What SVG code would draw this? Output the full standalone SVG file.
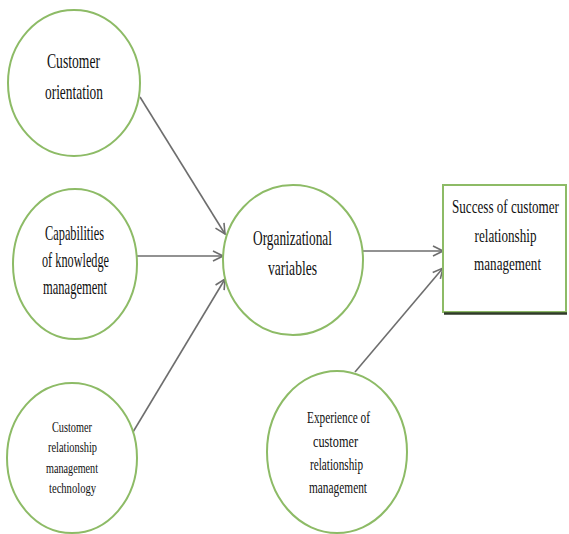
<svg xmlns="http://www.w3.org/2000/svg" width="569" height="534" viewBox="0 0 569 534">
<style>
.node{fill:#fff;stroke:#8dbb66;stroke-width:2}
.t{font-family:"Liberation Serif","Times New Roman",serif;fill:#111;text-anchor:middle}
.conn{stroke:#6e6e6e;stroke-width:1.6;fill:none;marker-end:url(#arr)}
</style>
<defs>
<marker id="arr" viewBox="0 0 12 12" refX="11" refY="6" markerWidth="12" markerHeight="12" markerUnits="userSpaceOnUse" orient="auto">
<path d="M1,1 L11,6 L1,11" fill="none" stroke="#6e6e6e" stroke-width="1.6"/>
</marker>
</defs>
<rect width="569" height="534" fill="#fff"/>
<g id="connectors">
<line class="conn" x1="140" y1="97" x2="225" y2="234"/>
<line class="conn" x1="137" y1="256" x2="223" y2="256"/>
<line class="conn" x1="133" y1="432" x2="225" y2="279"/>
<line class="conn" x1="363" y1="251" x2="443" y2="251"/>
<line class="conn" x1="355" y1="372" x2="443" y2="268"/>
</g>
<g id="n1">
<ellipse class="node" cx="74" cy="83" rx="66" ry="73"/>
<text class="t" font-size="21"><tspan x="73.5" y="68" textLength="53" lengthAdjust="spacingAndGlyphs">Customer</tspan><tspan x="74" y="99" textLength="58" lengthAdjust="spacingAndGlyphs">orientation</tspan></text>
</g>
<g id="n2">
<ellipse class="node" cx="75" cy="264" rx="62" ry="75"/>
<text class="t" font-size="21"><tspan x="74.5" y="240" textLength="59" lengthAdjust="spacingAndGlyphs">Capabilities</tspan><tspan x="75.5" y="267" textLength="67" lengthAdjust="spacingAndGlyphs">of knowledge</tspan><tspan x="75" y="294" textLength="64" lengthAdjust="spacingAndGlyphs">management</tspan></text>
</g>
<g id="n3">
<ellipse class="node" cx="72" cy="458" rx="65" ry="75"/>
<text class="t" font-size="15"><tspan x="72" y="432" textLength="40" lengthAdjust="spacingAndGlyphs">Customer</tspan><tspan x="72.5" y="452" textLength="49" lengthAdjust="spacingAndGlyphs">relationship</tspan><tspan x="72" y="473" textLength="52" lengthAdjust="spacingAndGlyphs">management</tspan><tspan x="72.5" y="493" textLength="47" lengthAdjust="spacingAndGlyphs">technology</tspan></text>
</g>
<g id="n4">
<ellipse class="node" cx="293" cy="260" rx="70" ry="75"/>
<text class="t" font-size="22"><tspan x="292.5" y="245" textLength="79" lengthAdjust="spacingAndGlyphs">Organizational</tspan><tspan x="292.5" y="275" textLength="49" lengthAdjust="spacingAndGlyphs">variables</tspan></text>
</g>
<g id="n5">
<rect x="443" y="185" width="123" height="127" fill="#fff" stroke="#8dbb66" stroke-width="2"/>
<line x1="444" y1="313.5" x2="567" y2="313.5" stroke="#2f3a28" stroke-width="2.5"/>
<text class="t" font-size="19" transform="translate(505.5,0) scale(0.69,1)"><tspan x="0" y="213">Success of customer</tspan><tspan x="0" y="242">relationship</tspan><tspan x="3" y="270">management</tspan></text>
</g>
<g id="n6">
<ellipse class="node" cx="337" cy="452" rx="70" ry="81"/>
<text class="t" font-size="17"><tspan x="338.5" y="423" textLength="63" lengthAdjust="spacingAndGlyphs">Experience of</tspan><tspan x="335.5" y="447" textLength="45" lengthAdjust="spacingAndGlyphs">customer</tspan><tspan x="336.5" y="470" textLength="53" lengthAdjust="spacingAndGlyphs">relationship</tspan><tspan x="338" y="493" textLength="58" lengthAdjust="spacingAndGlyphs">management</tspan></text>
</g>
</svg>
